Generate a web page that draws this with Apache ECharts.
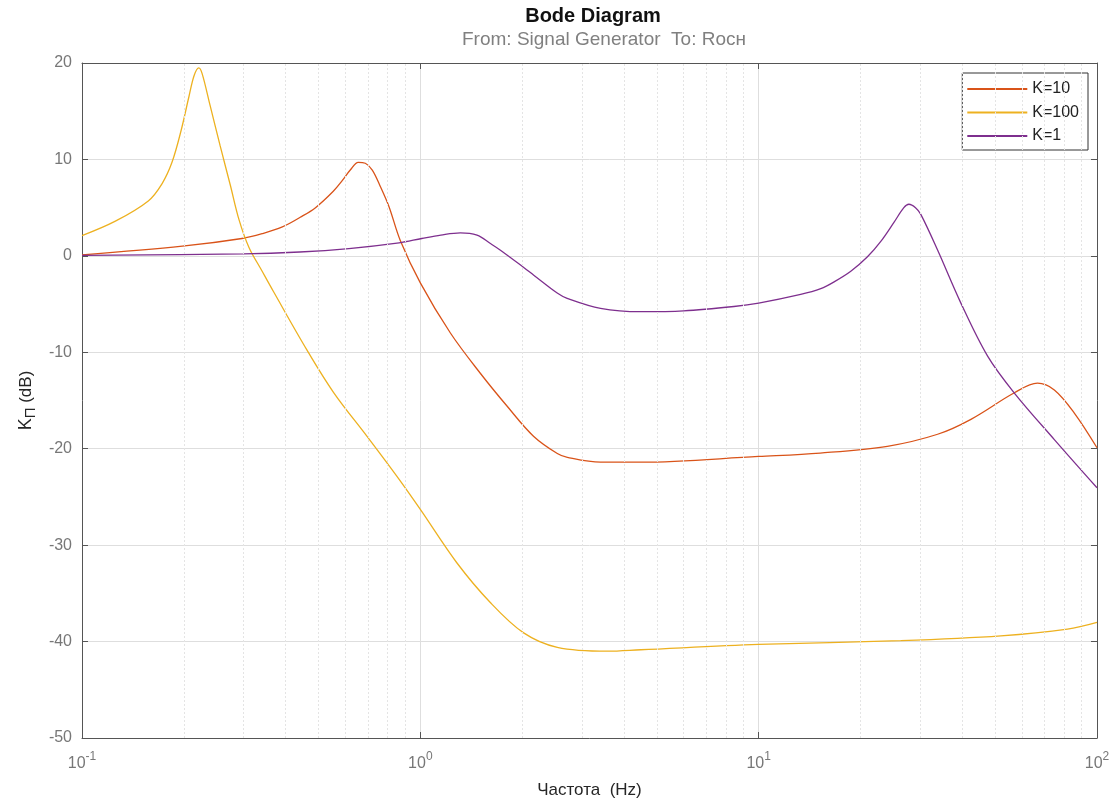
<!DOCTYPE html>
<html>
<head>
<meta charset="utf-8">
<title>Bode Diagram</title>
<script src="https://cdn.jsdelivr.net/npm/echarts@6/dist/echarts.min.js"></script>
<style>
  html, body { margin: 0; padding: 0; background: #fff; }
  #chart { width: 1119px; height: 804px; }
</style>
</head>
<body>
<div id="chart"></div>
<script>
// [частота Hz, дБ]
const k10 = [
  [0.1, 0.1], [0.198, 1.0], [0.297, 1.8], [0.3407, 2.3], [0.391, 3.0], [0.4416, 4.0],
  [0.49, 5.0], [0.553, 6.7], [0.5876, 7.8], [0.6207, 8.9], [0.6556, 9.7], [0.6876, 9.6],
  [0.7211, 8.9], [0.7616, 7.2], [0.808, 5.1], [0.8724, 1.6], [1.0, -2.8], [1.227, -8.0],
  [1.506, -12.2], [1.806, -15.6], [2.16, -18.7], [2.54, -20.5], [2.72, -20.9], [3.41, -21.4],
  [4.48, -21.4], [10, -20.8], [15.2, -20.45], [24, -19.75], [33.8, -18.5], [42.4, -16.95],
  [57, -14.2], [66.7, -13.2], [74.8, -13.9], [85.7, -16.3], [100, -19.9]
];
const k100 = [
  [0.1, 2.1], [0.1255, 3.6], [0.157, 5.7], [0.1725, 7.5], [0.1845, 9.7], [0.1963, 13.0],
  [0.207, 16.5], [0.2145, 18.7], [0.2214, 19.5], [0.2265, 18.9], [0.2391, 15.6], [0.2561, 11.4],
  [0.2741, 7.4], [0.2914, 3.7], [0.3113, 0.9], [0.3408, -1.6], [0.368, -3.7], [0.462, -9.75],
  [0.555, -14.2], [0.695, -18.7], [0.854, -22.9], [1.0, -26.3], [1.28, -31.8], [1.61, -35.95],
  [2.02, -39.1], [2.54, -40.6], [3.57, -41.0], [4.48, -40.85], [10, -40.3], [26.3, -39.9],
  [52, -39.4], [81.8, -38.7], [100, -38.0]
];
const k1 = [
  [0.1, 0.05], [0.3, 0.2], [0.44, 0.4], [0.615, 0.76], [0.865, 1.35], [1.01, 1.8],
  [1.15, 2.15], [1.313, 2.38], [1.471, 2.14], [1.611, 1.28], [1.725, 0.59], [2.021, -1.2],
  [2.164, -2.0], [2.538, -3.85], [2.716, -4.4], [3.408, -5.44], [4.477, -5.79], [6.0, -5.7],
  [8.45, -5.25], [10, -4.9], [13.31, -4.0], [15.26, -3.4], [16.71, -2.7], [18.72, -1.6],
  [20.97, -0.1], [22.96, 1.5], [25.14, 3.5], [26.86, 5.0], [27.79, 5.35], [29.08, 5.0],
  [30.15, 4.3], [33.79, 0.6], [39.6, -4.9], [47.5, -10.4], [56.9, -14.2], [74.8, -19.05],
  [100, -24.05]
];

// побочная сетка логарифмической оси
const minorFreqs = [
  0.2, 0.3, 0.4, 0.5, 0.6, 0.7, 0.8, 0.9,
  2, 3, 4, 5, 6, 7, 8, 9,
  20, 30, 40, 50, 60, 70, 80, 90
];

const seriesNames = ['K=10', 'K=100', 'K=1'];
const seriesColors = ['#D95319', '#EDB120', '#7E2F8E'];

const font = 'Liberation Sans, Arial, Helvetica, sans-serif';

const chart = echarts.init(document.getElementById('chart'));

function powLabel(v) {
  const e = Math.round(Math.log10(v));
  return '{b|10}{s|' + e + '}';
}

const xAxisBase = {
  type: 'log',
  logBase: 10,
  min: 0.1,
  max: 100,
  axisLine: { show: true, onZero: false, lineStyle: { color: '#555', width: 1 } },
  axisTick: { show: true, inside: true, length: 6, lineStyle: { color: '#555' } },
  splitLine: { show: false }
};
const yAxisBase = {
  type: 'value',
  min: -50,
  max: 20,
  interval: 10,
  axisLine: { show: true, onZero: false, lineStyle: { color: '#555', width: 1 } },
  axisTick: { show: true, inside: true, length: 6, lineStyle: { color: '#555' } },
  splitLine: { show: false }
};

function makeLine(i, data) {
  return {
    name: seriesNames[i],
    type: 'line',
    data: data,
    symbol: 'none',
    smooth: 0.35,
    smoothMonotone: 'none',
    z: 3,
    lineStyle: { color: seriesColors[i], width: 1.3 },
    itemStyle: { color: seriesColors[i] }
  };
}

const option = {
  animation: false,
  backgroundColor: '#fff',
  textStyle: { fontFamily: font },
  title: [
    {
      text: 'Bode Diagram',
      left: 588,
      top: 1,
      textAlign: 'center',
      textStyle: { fontSize: 20, fontWeight: 'bold', color: '#111', fontFamily: font }
    },
    {
      text: 'From: Signal Generator  To: Rocн',
      left: 599,
      top: 25,
      textAlign: 'center',
      textStyle: { fontSize: 19, fontWeight: 'normal', color: '#808080', fontFamily: font }
    }
  ],
  legend: {
    data: seriesNames,
    orient: 'vertical',
    right: 31,
    top: 73,
    icon: 'rect',
    itemWidth: 60,
    itemHeight: 2,
    itemGap: 7.5,
    padding: [8, 9, 6, 5],
    borderColor: '#333',
    borderWidth: 1,
    backgroundColor: '#fff',
    textStyle: { fontSize: 16, color: '#222', fontFamily: font }
  },
  grid: { left: 82, right: 22, top: 63, bottom: 65, containLabel: false },
  xAxis: [
    Object.assign({}, xAxisBase, {
      position: 'bottom',
      splitLine: { show: true, lineStyle: { color: '#dedede', width: 1 } },
      axisLabel: {
        margin: 13,
        color: '#777',
        formatter: powLabel,
        rich: {
          b: { fontSize: 16, lineHeight: 26, verticalAlign: 'middle', color: '#777', fontFamily: font },
          s: { fontSize: 12, lineHeight: 12, verticalAlign: 'top', color: '#777', fontFamily: font }
        }
      },
      name: 'Частота  (Hz)',
      nameLocation: 'middle',
      nameGap: 44,
      nameTextStyle: { fontSize: 17, color: '#262626', fontFamily: font }
    }),
    Object.assign({}, xAxisBase, {
      position: 'top',
      axisLabel: { show: false }
    })
  ],
  yAxis: [
    Object.assign({}, yAxisBase, {
      position: 'left',
      splitLine: { show: true, lineStyle: { color: '#dedede', width: 1 } },
      axisLabel: { margin: 10, fontSize: 16, color: '#777', fontFamily: font },
      name: '{k|K}{s|П}{u| (dB)}',
      nameLocation: 'middle',
      nameRotate: 90,
      nameGap: 43,
      nameTextStyle: {
        rich: {
          k: { fontSize: 18, lineHeight: 24, verticalAlign: 'middle', color: '#262626', fontFamily: font },
          s: { fontSize: 15, lineHeight: 13, verticalAlign: 'bottom', color: '#262626', fontFamily: font },
          u: { fontSize: 17, lineHeight: 24, verticalAlign: 'middle', color: '#262626', fontFamily: font }
        }
      }
    }),
    Object.assign({}, yAxisBase, {
      position: 'right',
      axisLabel: { show: false }
    })
  ],
  series: [
    {
      name: 'grid-minor',
      type: 'line',
      data: [],
      silent: true,
      z: 1,
      markLine: {
        silent: true,
        symbol: 'none',
        animation: false,
        label: { show: false },
        lineStyle: { color: '#e4e4e4', type: [2, 2], width: 1 },
        data: minorFreqs.map(f => ({ xAxis: f }))
      }
    },
    makeLine(0, k10),
    makeLine(1, k100),
    makeLine(2, k1)
  ]
};

chart.setOption(option);
</script>
</body>
</html>
